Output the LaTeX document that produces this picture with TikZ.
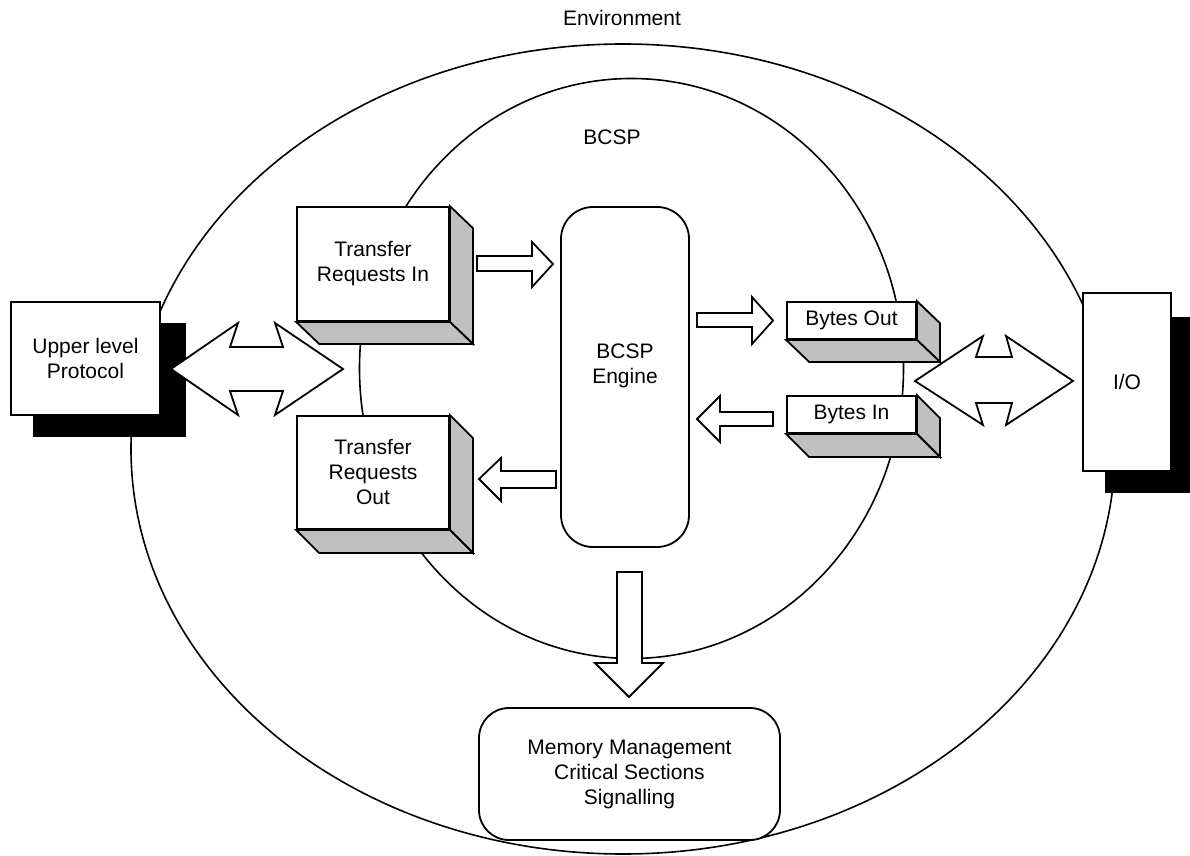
\documentclass[tikz,border=0pt]{standalone}
\usepackage{fontspec}
\setmainfont{Liberation Sans}
\usetikzlibrary{calc}
\definecolor{sidegray}{HTML}{C0C0C0}
\begin{document}
\begin{tikzpicture}[x=0.5pt,y=-0.5pt,line join=miter,
  font=\fontsize{10.5}{12.5}\selectfont,
  box/.style={draw,line width=0.9pt,fill=white,inner sep=0pt,align=center},
  sideface/.style={draw,line width=0.9pt,fill=sidegray},
  blockarrow/.style={draw,line width=0.9pt,fill=white},
  ring/.style={draw,line width=0.8pt},
  shadowfill/.style={fill=black},
  lbl/.style={inner sep=0pt,align=center}]
\useasboundingbox (0,0) rectangle (1190,856);

% rings
\draw[ring] (623,449) ellipse [x radius=492, y radius=405];
\draw[ring] (631.5,368.5) ellipse [x radius=272, y radius=290];
\node[lbl] (envlabel) at (622,18) {Environment};
\node[lbl] (bcsplabel) at (612,137) {BCSP};

% shadows
\fill[shadowfill] (33,323) rectangle (186,437);
\fill[shadowfill] (1105,317) rectangle (1190,493);

% boxes
\node[box,minimum width=74.5pt,minimum height=56.5pt] (ulp) at (85.5,358.5) {Upper level\\Protocol};
\node[box,minimum width=44pt,minimum height=89pt] (io) at (1127,382) {I/O};

\node[box,minimum width=76pt,minimum height=57pt] (tri) at (373,264) {Transfer\\Requests In};
\node[box,minimum width=76pt,minimum height=56.5pt] (tro) at (373,472.5) {Transfer\\Requests\\Out};
\node[box,minimum width=64.5pt,minimum height=18.5pt] (bout) at (851.5,320.5) {Bytes Out};
\node[box,minimum width=64.5pt,minimum height=18.5pt] (bin) at (851.5,414.5) {Bytes In};

\foreach \b/\dy in {tri/22,tro/23,bout/22,bin/23}{
  \draw[sideface] (\b.north east) -- ++(23,\dy) -- ($(\b.south east)+(23,\dy)$) -- (\b.south east) -- cycle;
  \draw[sideface] (\b.south west) -- ++(23,\dy) -- ($(\b.south east)+(23,\dy)$) -- (\b.south east) -- cycle;
}

\node[box,rounded corners=16pt,minimum width=64pt,minimum height=170pt] (engine) at (625,377) {};
\node[lbl] (enginetext) at (625,366) {BCSP\\Engine};

\node[box,rounded corners=15pt,minimum width=150.5pt,minimum height=66pt] (mem) at (629.5,774)
  {Memory Management\\Critical Sections\\Signalling};

% block arrows
\draw[blockarrow] (477,256) -- (532,256) -- (532,242) -- (553,264) -- (532,287) -- (532,271) -- (477,271) -- cycle;
\draw[blockarrow] (556,471) -- (501,471) -- (501,458) -- (479,479) -- (501,501) -- (501,488) -- (556,488) -- cycle;
\draw[blockarrow] (697,313) -- (752,313) -- (752,297) -- (773,320.5) -- (752,344) -- (752,327) -- (697,327) -- cycle;
\draw[blockarrow] (773,412) -- (720,412) -- (720,396) -- (697,419) -- (720,442) -- (720,426) -- (773,426) -- cycle;
\draw[blockarrow] (617,572) -- (642,572) -- (642,663) -- (663,663) -- (629,697) -- (595,663) -- (617,663) -- cycle;

% double arrows
\draw[blockarrow] (171,369) -- (238,323) -- (230,347) -- (283,347) -- (275,323) -- (343,369)
  -- (275,415) -- (283,391) -- (230,391) -- (238,415) -- cycle;
\draw[blockarrow] (915,381) -- (983,336) -- (976,357) -- (1012,357) -- (1006,336) -- (1073,381)
  -- (1006,425) -- (1012,403) -- (976,403) -- (983,425) -- cycle;
\end{tikzpicture}
\end{document}
